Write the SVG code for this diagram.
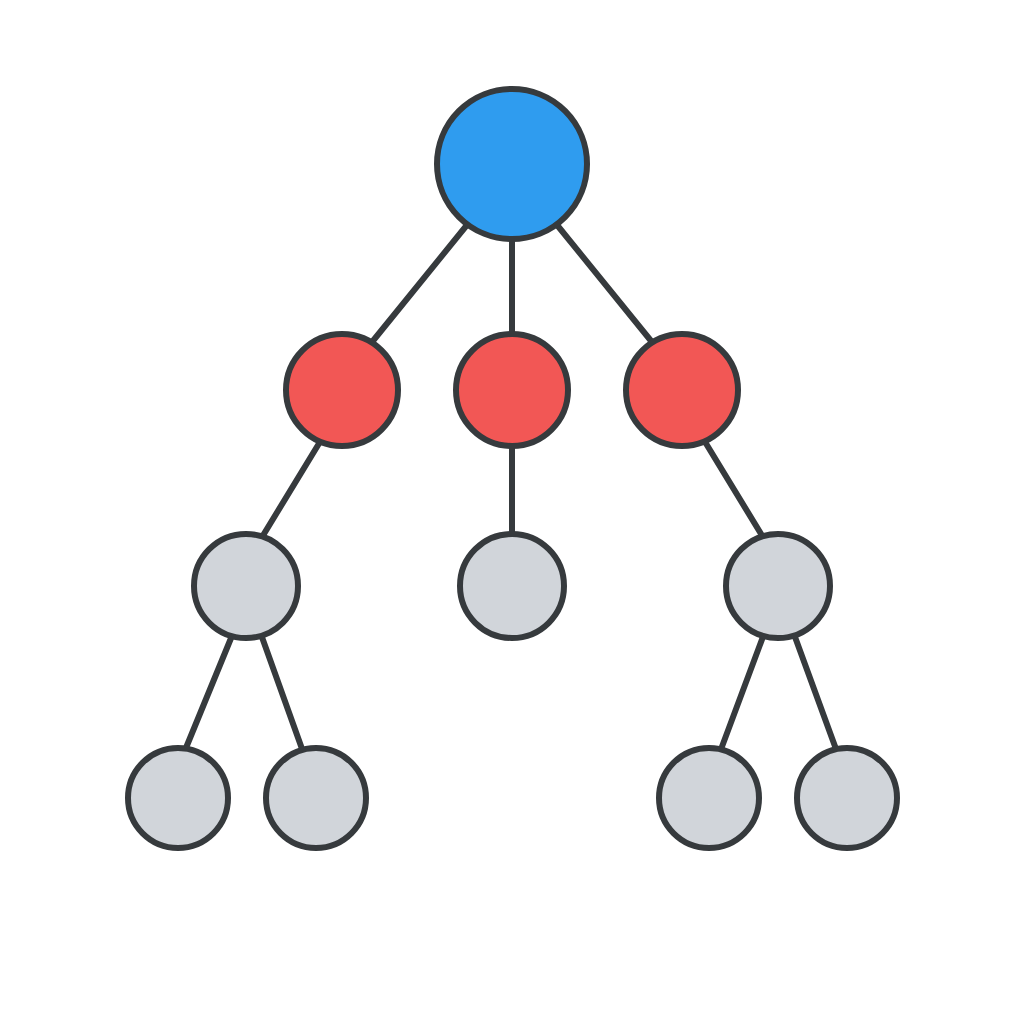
<svg xmlns="http://www.w3.org/2000/svg" width="1024" height="1024" viewBox="0 0 1024 1024">
<style>
.edge{stroke:#363a3d;stroke-width:6;stroke-linecap:round;fill:none}
.node{stroke:#363a3d;stroke-width:6}
.root{fill:#2f9cef}
.mid{fill:#f25755}
.leaf{fill:#d1d5da}
</style>
<rect width="1024" height="1024" fill="#ffffff"/>
<g id="connectors">
<line class="edge" x1="471" y1="220" x2="368" y2="347"/>
<line class="edge" x1="512" y1="230" x2="512" y2="345"/>
<line class="edge" x1="553" y1="220" x2="656" y2="347"/>
<line class="edge" x1="326" y1="432" x2="256" y2="547"/>
<line class="edge" x1="512" y1="440" x2="512" y2="545"/>
<line class="edge" x1="699" y1="432" x2="769" y2="547"/>
<line class="edge" x1="236" y1="626" x2="181" y2="760"/>
<line class="edge" x1="258" y1="626" x2="306" y2="760"/>
<line class="edge" x1="767" y1="626" x2="717" y2="760"/>
<line class="edge" x1="791" y1="626" x2="840" y2="760"/>
</g>
<g id="n-root"><circle class="node root" cx="512" cy="164" r="75"/></g>
<g id="n-a"><circle class="node mid" cx="342" cy="390" r="56"/></g>
<g id="n-b"><circle class="node mid" cx="512" cy="390" r="56"/></g>
<g id="n-c"><circle class="node mid" cx="682" cy="390" r="56"/></g>
<g id="n-a1"><circle class="node leaf" cx="246" cy="586" r="52"/></g>
<g id="n-b1"><circle class="node leaf" cx="512" cy="586" r="52"/></g>
<g id="n-c1"><circle class="node leaf" cx="778" cy="586" r="52"/></g>
<g id="n-a1a"><circle class="node leaf" cx="178" cy="798" r="50"/></g>
<g id="n-a1b"><circle class="node leaf" cx="316" cy="798" r="50"/></g>
<g id="n-c1a"><circle class="node leaf" cx="709" cy="798" r="50"/></g>
<g id="n-c1b"><circle class="node leaf" cx="847" cy="798" r="50"/></g>
</svg>
